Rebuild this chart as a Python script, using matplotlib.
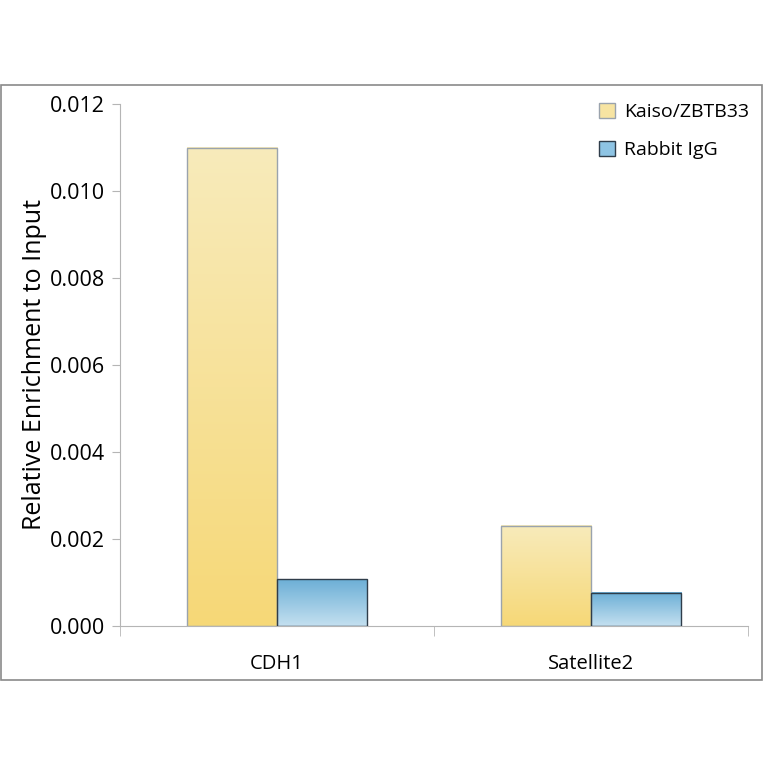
import numpy as np
import matplotlib

matplotlib.use("Agg")
import matplotlib.pyplot as plt
from matplotlib.colors import LinearSegmentedColormap
from matplotlib.patches import Rectangle, Patch

plt.rcParams["font.family"] = ["Open Sans", "DejaVu Sans"]

categories = ["CDH1", "Satellite2"]
series_names = ["Kaiso/ZBTB33", "Rabbit IgG"]
kaiso = [0.0110, 0.0023]
igg = [0.00108, 0.00076]
yticks = [0.000, 0.002, 0.004, 0.006, 0.008, 0.010, 0.012]

# gradient (bottom colour, top colour) and edge colour per series
styles = [
    (("#f6d877", "#f8ebbb"), "#9aa3ad"),
    (("#c4e0f0", "#6cafd6"), "#2f3d4a"),
]

fig = plt.figure(figsize=(7.64, 7.64), dpi=100)
fig.patches.append(Rectangle((1 / 764, 84 / 764), 761 / 764, 595 / 764,
                             transform=fig.transFigure, fill=False,
                             edgecolor="#8a8a8a", lw=1.2))
ax = fig.add_axes([120 / 764, 138 / 764, 628 / 764, 522 / 764])

width = 0.287
x = np.arange(len(categories))
grad = np.linspace(0, 1, 256).reshape(-1, 1)
for i, vals in enumerate([kaiso, igg]):
    (c0, c1), ec = styles[i]
    cmap = LinearSegmentedColormap.from_list(f"g{i}", [c0, c1])
    offs = (i - 0.5) * width
    for xi, v in zip(x, vals):
        left = xi + offs - width / 2
        ax.imshow(grad, cmap=cmap, origin="lower", aspect="auto",
                  extent=[left, left + width, 0, v], zorder=2)
        ax.add_patch(Rectangle((left, 0), width, v, fill=False,
                               edgecolor=ec, lw=1.0, zorder=3))

ax.set_xlim(-0.5, 1.5)
ax.set_ylim(0, 0.012)
ax.set_yticks(yticks)
ax.set_yticklabels([f"{t:.3f}" for t in yticks], fontsize=15.5)
ax.set_xticks(x)
ax.set_xticklabels(categories, fontsize=14.5)
ax.set_xticks([-0.5, 0.5, 1.5], minor=True)
ax.tick_params(axis="x", which="major", length=0, pad=20)
ax.tick_params(axis="x", which="minor", length=7, color="#b5b5b5")
ax.tick_params(axis="y", length=6, color="#b5b5b5", pad=5)
for s in ["top", "right"]:
    ax.spines[s].set_visible(False)
for s in ["left", "bottom"]:
    ax.spines[s].set_color("#b5b5b5")
ax.set_ylabel("Relative Enrichment to Input", fontsize=18)
ax.yaxis.set_label_coords(-73 / 628, 0.5)

handles = [Patch(facecolor="#f7e4a2", edgecolor=styles[0][1]),
           Patch(facecolor="#8ec4e4", edgecolor=styles[1][1])]
ax.legend(handles, series_names, loc="upper right", bbox_to_anchor=(1.03, 1.035),
          frameon=False, fontsize=14, handlelength=0.8, handleheight=0.8,
          handletextpad=0.5, labelspacing=1.0)

fig.savefig("out.png", dpi=100)
